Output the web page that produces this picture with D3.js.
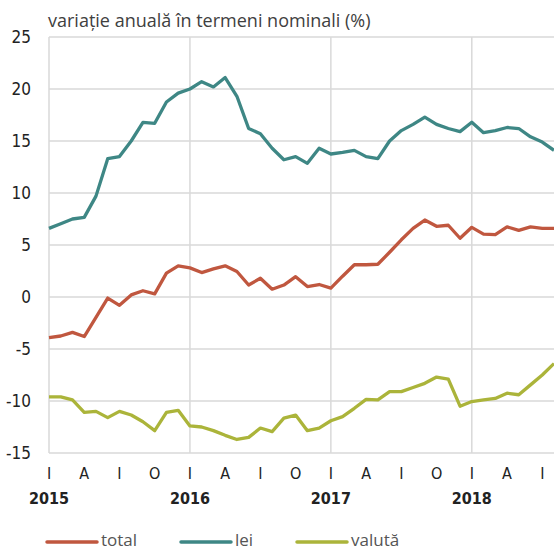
<!DOCTYPE html>
<html>
<head>
<meta charset="utf-8">
<script src="https://cdn.jsdelivr.net/npm/d3@7"></script>
<style>
  body { margin: 0; background: #fff; }
  .narrow { font-family: "Liberation Sans Narrow", "DejaVu Sans Condensed", "Roboto Condensed", sans-serif; }
</style>
</head>
<body>
<script>
// monthly data, Jan 2015 .. Aug 2018
const startYear = 2015;
const total = [-3.9, -3.75, -3.4, -3.8, -1.95, -0.1, -0.8, 0.2, 0.6, 0.3, 2.3, 3.0,
  2.8, 2.35, 2.7, 3.0, 2.45, 1.15, 1.8, 0.75, 1.15, 1.95, 1.0, 1.2,
  0.85, 2.0, 3.1, 3.1, 3.15, 4.3, 5.5, 6.6, 7.4, 6.8, 6.9, 5.65,
  6.7, 6.05, 6.0, 6.75, 6.4, 6.75, 6.6, 6.6];
const lei = [6.6, 7.05, 7.5, 7.66, 9.7, 13.3, 13.5, 15.0, 16.8, 16.7, 18.75, 19.6,
  20.0, 20.7, 20.2, 21.1, 19.3, 16.2, 15.7, 14.3, 13.2, 13.5, 12.85, 14.3,
  13.75, 13.9, 14.1, 13.5, 13.3, 15.0, 16.0, 16.6, 17.3, 16.6, 16.2, 15.9,
  16.8, 15.8, 16.0, 16.3, 16.2, 15.4, 14.9, 14.1];
const valuta = [-9.6, -9.6, -9.9, -11.1, -11.0, -11.6, -11.0, -11.35, -12.0, -12.85, -11.1, -10.9,
  -12.4, -12.5, -12.85, -13.3, -13.7, -13.5, -12.6, -12.95, -11.65, -11.35, -12.85, -12.6,
  -11.9, -11.5, -10.7, -9.85, -9.9, -9.1, -9.1, -8.7, -8.3, -7.7, -7.9, -10.5,
  -10.05, -9.9, -9.75, -9.25, -9.4, -8.45, -7.5, -6.4];
const yTicks = [-15, -10, -5, 0, 5, 10, 15, 20, 25];
const monthLetters = ["I", "A", "I", "O"];
const years = [2015, 2016, 2017, 2018];
const seriesNames = ["total", "lei", "valută"];
const colors = ["#c0573f", "#3e8785", "#abb43a"];
const title = "variație anuală în termeni nominali (%)";

const width = 554, height = 551;
const margin = {top: 37, right: 0, bottom: 98, left: 49};

const svg = d3.select("body").append("svg")
  .attr("width", width)
  .attr("height", height);

const x = d3.scaleLinear().domain([0, total.length - 1]).range([margin.left, width - margin.right]);
const y = d3.scaleLinear().domain([-15, 25]).range([height - margin.bottom, margin.top]);

// grid
const grid = svg.append("g").attr("stroke", "#d9d9d9").attr("stroke-width", 1.5);
grid.selectAll("line.h").data(yTicks).join("line")
  .attr("x1", margin.left).attr("x2", width)
  .attr("y1", d => y(d)).attr("y2", d => y(d));
grid.selectAll("line.v").data(years).join("line")
  .attr("x1", d => x((d - startYear) * 12)).attr("x2", d => x((d - startYear) * 12))
  .attr("y1", y(-15)).attr("y2", y(25));

// y labels
svg.append("g").attr("class", "narrow")
  .selectAll("text").data(yTicks).join("text")
  .attr("x", 31).attr("y", d => y(d) + 6)
  .attr("text-anchor", "end")
  .attr("font-size", 17)
  .attr("fill", "#222")
  .text(d => d);

// month letters (every 3 months)
const quarterIdx = d3.range(0, total.length, 3);
svg.append("g").attr("class", "narrow")
  .selectAll("text").data(quarterIdx).join("text")
  .attr("x", d => x(d)).attr("y", 479)
  .attr("text-anchor", "middle")
  .attr("font-size", 16)
  .attr("fill", "#222")
  .text(d => monthLetters[(d / 3) % 4]);

// years
svg.append("g").attr("class", "narrow")
  .selectAll("text").data(years).join("text")
  .attr("x", d => x((d - startYear) * 12)).attr("y", 504)
  .attr("text-anchor", "middle")
  .attr("font-size", 16)
  .attr("font-weight", "bold")
  .attr("fill", "#222")
  .text(d => d);

// lines
const line = d3.line().x((d, i) => x(i)).y(d => y(d));
[total, lei, valuta].forEach((s, k) => {
  svg.append("path")
    .datum(s)
    .attr("fill", "none")
    .attr("stroke", colors[k])
    .attr("stroke-width", 3.3)
    .attr("stroke-linejoin", "round")
    .attr("d", line);
});

// title
svg.append("text")
  .attr("x", 48).attr("y", 27)
  .attr("font-family", "'Open Sans', 'Noto Sans', sans-serif")
  .attr("font-size", 18)
  .attr("fill", "#404040")
  .text(title);

// legend
const legendX = [47, 181, 297];
const lg = svg.append("g").selectAll("g").data(seriesNames).join("g")
  .attr("transform", (d, i) => `translate(${legendX[i]},542)`);
lg.append("line")
  .attr("x1", 0).attr("x2", 50)
  .attr("stroke", (d, i) => colors[i])
  .attr("stroke-width", 3.5)
  .attr("stroke-linecap", "round");
lg.append("text")
  .attr("x", 54).attr("y", 4)
  .attr("font-family", "'Open Sans', 'Noto Sans', sans-serif")
  .attr("font-size", 17)
  .attr("fill", "#555")
  .text(d => d);
</script>
</body>
</html>
